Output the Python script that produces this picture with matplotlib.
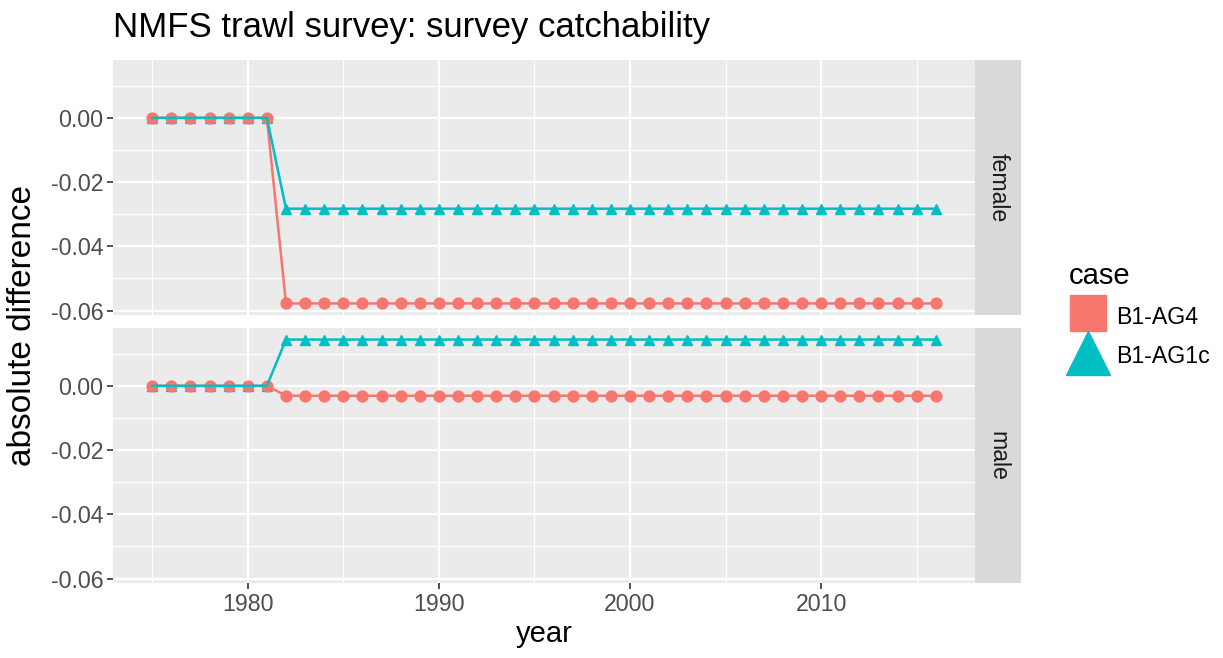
import numpy as np
import matplotlib
matplotlib.use("Agg")
import matplotlib.pyplot as plt
from matplotlib.lines import Line2D

plt.rcParams["font.family"] = ["Liberation Sans", "DejaVu Sans"]

# data
years = list(range(1975, 2017))
change_year = 1982
female_ag4 = -0.0578
female_ag1c = -0.0283
male_ag4 = -0.0031
male_ag1c = 0.0144

def step_series(level):
    return [0.0 if y < change_year else level for y in years]

panels = ["female", "male"]
series = {
    "female": {"B1-AG4": step_series(female_ag4), "B1-AG1c": step_series(female_ag1c)},
    "male": {"B1-AG4": step_series(male_ag4), "B1-AG1c": step_series(male_ag1c)},
}
cases = ["B1-AG4", "B1-AG1c"]
colors = {"B1-AG4": "#F8766D", "B1-AG1c": "#00BFC4"}
markers = {"B1-AG4": "o", "B1-AG1c": "^"}

yticks = [0.0, -0.02, -0.04, -0.06]
yminor = [0.01, -0.01, -0.03, -0.05]
xticks = [1980, 1990, 2000, 2010]
xminor = [1975, 1985, 1995, 2005, 2015]

W, H = 1223, 658
fig = plt.figure(figsize=(W / 100, H / 100), dpi=100)

left, right, strip_r = 113, 975, 1021
boxes = [(60, 315), (328, 583)]
tick_col = "#4D4D4D"
small = 16.7

# zorder so red points sit over the cyan ones and the cyan line over both
pt_z = {"B1-AG4": 4, "B1-AG1c": 3}
ln_z = {"B1-AG4": 5, "B1-AG1c": 6}

for i, name in enumerate(panels):
    top, bot = boxes[i]
    ax = fig.add_axes([left / W, 1 - bot / H, (right - left) / W, (bot - top) / H])
    ax.set_facecolor("#EBEBEB")
    for s in ax.spines.values():
        s.set_visible(False)
    ax.set_xlim(1972.95, 2018.05)
    ax.set_ylim(-0.0614, 0.0180)
    ax.set_yticks(yticks)
    ax.set_yticklabels([f"{v:.2f}" for v in yticks])
    ax.set_yticks(yminor, minor=True)
    ax.set_xticks(xticks)
    ax.set_xticks(xminor, minor=True)
    ax.grid(True, which="major", color="white", lw=1.6)
    ax.grid(True, which="minor", color="white", lw=0.8)
    ax.set_axisbelow(True)
    ax.tick_params(which="major", length=4, width=1.2, color="#333333",
                   labelsize=small, labelcolor=tick_col, pad=3)
    ax.tick_params(which="minor", length=0)
    if i == 0:
        ax.tick_params(axis="x", which="both", length=0, labelbottom=False)
    for c in cases:
        ax.plot(years, series[name][c], color=colors[c], lw=1.8, zorder=ln_z[c])
        ax.plot(years, series[name][c], ls="none", marker=markers[c],
                color=colors[c], ms=7.8, zorder=pt_z[c])

    # facet strip
    sax = fig.add_axes([right / W, 1 - bot / H, (strip_r - right) / W, (bot - top) / H])
    sax.set_facecolor("#D9D9D9")
    sax.set_xticks([])
    sax.set_yticks([])
    for s in sax.spines.values():
        s.set_visible(False)
    sax.text(0.5, 0.5, name, rotation=-90, ha="center", va="center",
             fontsize=small, color="#1A1A1A", transform=sax.transAxes)

fig.text(left / W, 1 - 28 / H, "NMFS trawl survey: survey catchability",
         fontsize=25, ha="left", va="center", color="black")
fig.text((left + right) / 2 / W, 1 - 634 / H, "year", fontsize=21,
         ha="center", va="center")
fig.text(23 / W, 1 - 326 / H, "absolute difference", fontsize=24,
         rotation=90, ha="center", va="center")

handles = [
    Line2D([], [], color=colors["B1-AG4"], marker="s", ms=26, lw=0),
    Line2D([], [], color=colors["B1-AG1c"], marker="^", ms=31, lw=0),
]
leg = fig.legend(handles, cases, title="case", loc="upper left",
                 bbox_to_anchor=(1069 / W, 1 - 262 / H), frameon=False,
                 fontsize=small, title_fontsize=21, handlelength=1.6,
                 handleheight=1.4, labelspacing=0.55, handletextpad=0.45,
                 borderaxespad=0, borderpad=0)
leg._legend_box.align = "left"

fig.savefig("out.png", dpi=100)
